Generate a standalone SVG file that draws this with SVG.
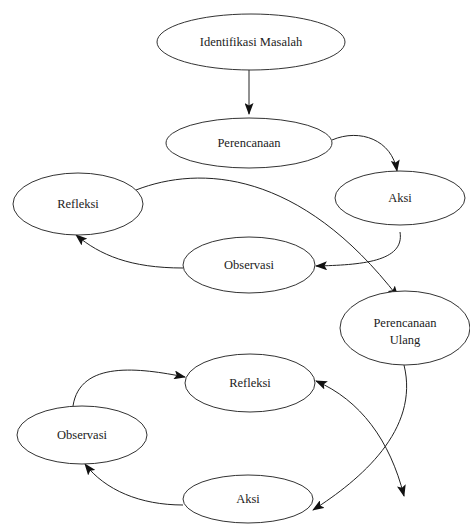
<svg xmlns="http://www.w3.org/2000/svg" width="470" height="530" viewBox="0 0 470 530">
<style>
.n ellipse{fill:#fff;stroke:#333;stroke-width:1}
.n text{font-family:'Liberation Serif','Times New Roman','DejaVu Serif',serif;font-size:12.5px;fill:#222;text-anchor:middle}
.c path{fill:none;stroke:#222;stroke-width:1}
</style>
<defs>
<marker id="ah" viewBox="0 0 12 9" refX="11" refY="4.5" markerWidth="12" markerHeight="9" markerUnits="userSpaceOnUse" orient="auto-start-reverse">
<path d="M0,0 L12,4.5 L0,9 L2.5,4.5 Z" fill="#111"/>
</marker>
</defs>
<rect width="470" height="530" fill="#fff"/>
<g class="c">
<path d="M249,70 L249,114" stroke-width="1.8" marker-end="url(#ah)"/>
<path d="M332,140 C360,128 392,140 397,171" marker-end="url(#ah)"/>
<path d="M400,232 C405,262 360,265 316,266" marker-end="url(#ah)"/>
<path d="M183,268 C130,268 100,255 76,235" marker-end="url(#ah)"/>
<path d="M136,190 C200,165 300,170 398,297" marker-end="url(#ah)"/>
<path d="M73,406 C80,360 140,368 185,377" marker-end="url(#ah)"/>
<path d="M183,505 C140,505 105,490 85,464" marker-end="url(#ah)"/>
<path d="M404,365 C420,430 360,480 313,510" marker-end="url(#ah)"/>
<path d="M316,381 C360,400 390,440 404,496" marker-start="url(#ah)" marker-end="url(#ah)"/>
</g>
<g id="identifikasi" class="n"><ellipse cx="251" cy="42" rx="94" ry="28"/><text x="251" y="46">Identifikasi Masalah</text></g>
<g id="perencanaan" class="n"><ellipse cx="249" cy="143" rx="83" ry="25"/><text x="249" y="147">Perencanaan</text></g>
<g id="aksi1" class="n"><ellipse cx="400" cy="198" rx="65" ry="27"/><text x="400" y="202">Aksi</text></g>
<g id="refleksi1" class="n"><ellipse cx="78" cy="204" rx="65" ry="31"/><text x="78" y="208">Refleksi</text></g>
<g id="observasi1" class="n"><ellipse cx="249" cy="265" rx="66" ry="28"/><text x="249" y="269">Observasi</text></g>
<g id="perencanaan-ulang" class="n"><ellipse cx="405" cy="328" rx="65" ry="37"/><text x="405" y="327">Perencanaan</text><text x="405" y="344">Ulang</text></g>
<g id="refleksi2" class="n"><ellipse cx="250" cy="383" rx="65" ry="29"/><text x="250" y="387">Refleksi</text></g>
<g id="observasi2" class="n"><ellipse cx="82" cy="435" rx="65" ry="29"/><text x="82" y="439">Observasi</text></g>
<g id="aksi2" class="n"><ellipse cx="248" cy="499" rx="65" ry="24"/><text x="248" y="503">Aksi</text></g>
</svg>
